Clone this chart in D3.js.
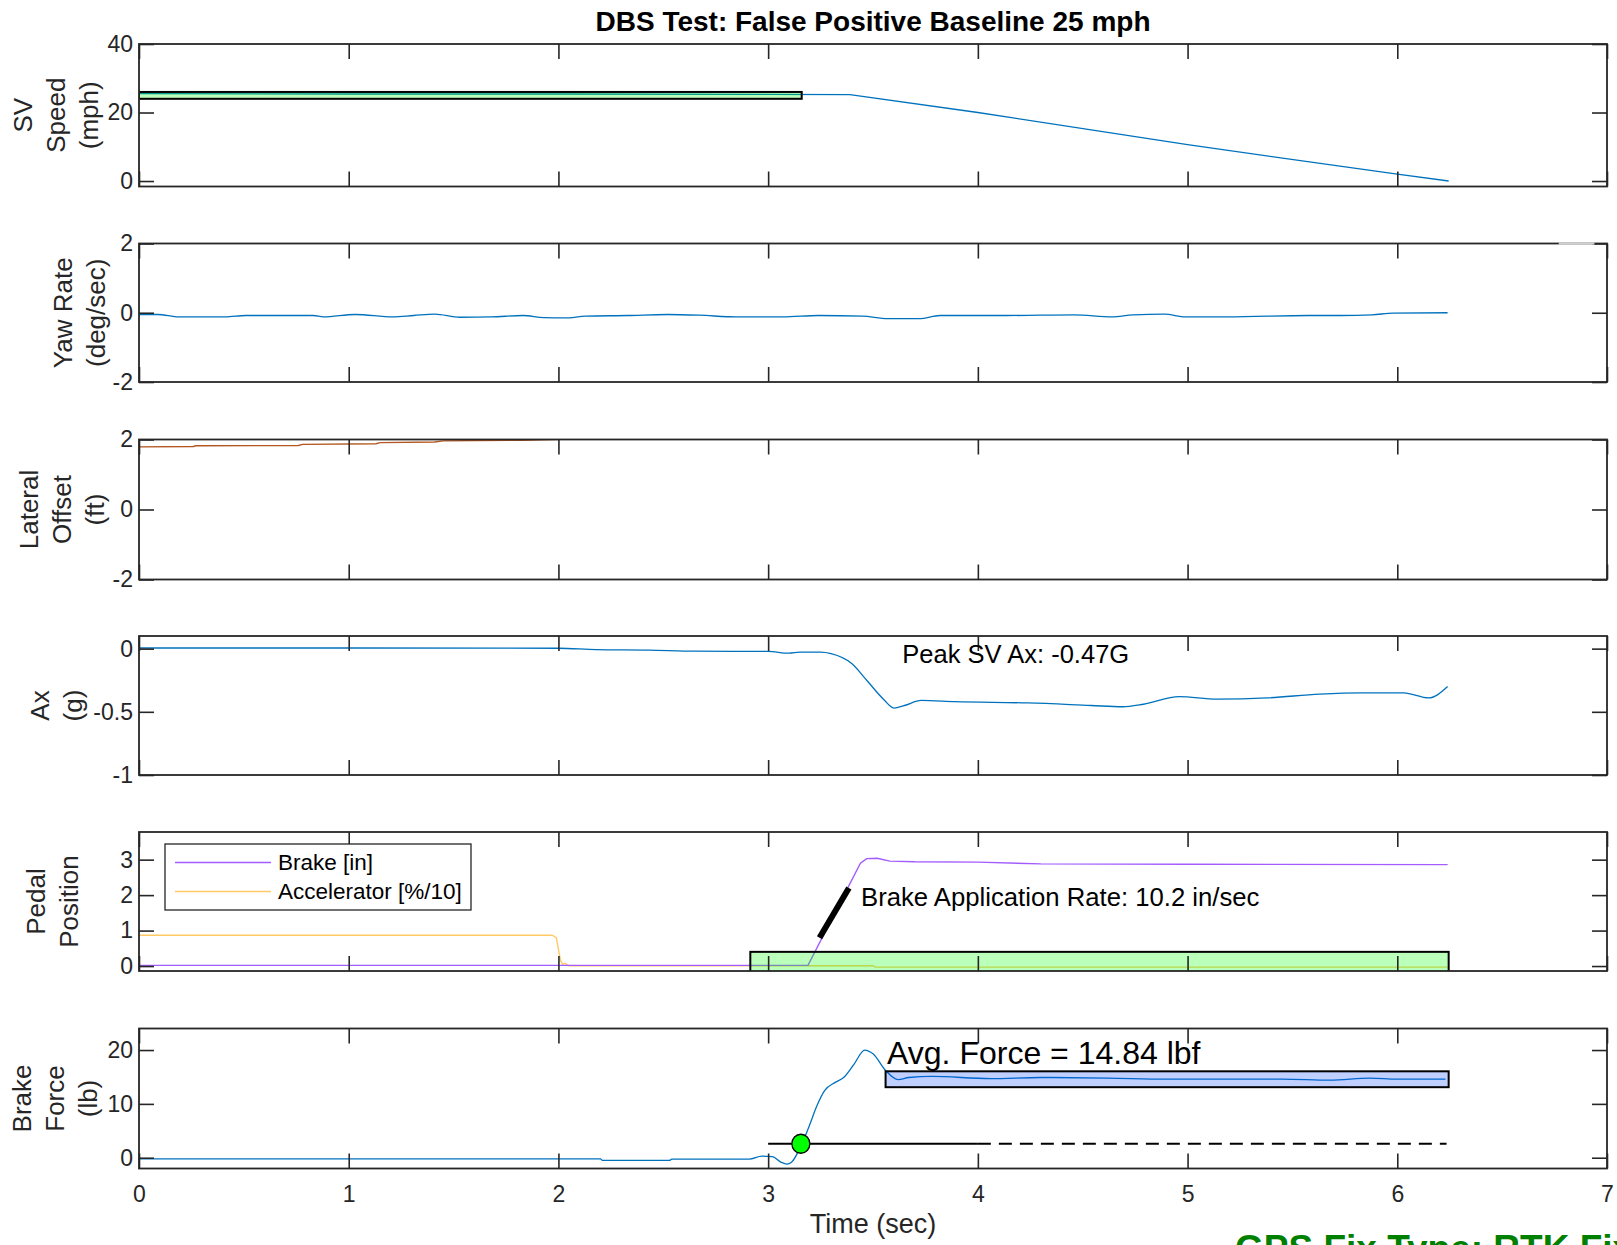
<!DOCTYPE html>
<html>
<head>
<meta charset="utf-8">
<script src="https://cdn.jsdelivr.net/npm/d3@7"></script>
<style>
html, body { margin: 0; padding: 0; background: #fff; }
svg { display: block; font-family: "Liberation Sans", Arial, Helvetica, sans-serif; }
</style>
</head>
<body>
<svg id="chart" width="1617" height="1245"></svg>
<script>
// ---- data (time in sec) ----
var timeTicks = [0, 1, 2, 3, 4, 5, 6, 7];

var speedData = [[0, 25.5], [1.0, 25.4], [2.0, 25.4], [3.0, 25.3], [3.39, 25.2], [4.0, 20.0], [5.0, 10.6], [6.0, 2.0], [6.245, 0]];

var yawData = [[0, -0.05], [0.09, -0.05], [0.19, -0.12], [0.41, -0.12], [0.51, -0.08], [0.83, -0.08], [0.88, -0.12],
  [1.03, -0.05], [1.21, -0.12], [1.31, -0.08], [1.41, -0.04], [1.53, -0.13], [1.68, -0.12], [1.83, -0.08],
  [1.93, -0.14], [2.03, -0.15], [2.13, -0.10], [2.33, -0.08], [2.52, -0.05], [2.67, -0.07], [2.85, -0.12],
  [3.07, -0.12], [3.24, -0.08], [3.45, -0.10], [3.57, -0.17], [3.72, -0.17], [3.82, -0.08], [4.14, -0.08],
  [4.46, -0.06], [4.64, -0.12], [4.74, -0.06], [4.89, -0.04], [4.99, -0.12], [5.19, -0.12], [5.58, -0.08],
  [5.73, -0.08], [5.88, -0.06], [5.98, -0.01], [6.24, 0.0]];

var lateralData = [[0, 1.79], [0.26, 1.80], [0.27, 1.82], [0.76, 1.83], [0.78, 1.86], [1.13, 1.88], [1.15, 1.91],
  [1.41, 1.93], [1.45, 1.96], [1.83, 1.98], [2.06, 2.01], [2.2, 2.05]];

var axData = [[0, 0.005], [1.0, 0.005], [2.0, 0.003], [2.18, -0.008], [2.43, -0.012], [2.65, -0.02], [3.0, -0.022],
  [3.1, -0.036], [3.15, -0.028], [3.25, -0.028], [3.3, -0.04], [3.4, -0.12], [3.47, -0.25], [3.55, -0.40],
  [3.6, -0.47], [3.65, -0.45], [3.73, -0.41], [3.89, -0.42], [4.24, -0.43], [4.54, -0.45], [4.69, -0.46],
  [4.79, -0.44], [4.96, -0.38], [5.14, -0.40], [5.38, -0.39], [5.63, -0.36], [5.83, -0.35], [6.03, -0.35],
  [6.15, -0.39], [6.24, -0.30]];

var brakeData = [[0, 0.02], [3.19, 0.02], [3.44, 2.9], [3.47, 3.03], [3.52, 3.04], [3.58, 2.96], [3.7, 2.94],
  [4.0, 2.93], [4.3, 2.88], [5.0, 2.87], [6.24, 2.86]];

var accelData = [[0, 0.87], [1.97, 0.87], [1.99, 0.8], [2.01, 0.15], [2.02, 0.05], [2.03, 0.08], [2.05, 0.01],
  [3.5, 0.01], [3.51, -0.03], [6.24, -0.03]];

var forceData = [[0, -0.2], [2.2, -0.2], [2.21, -0.5], [2.53, -0.5], [2.54, -0.25], [2.91, -0.25], [2.97, 0.3],
  [3.02, 0.2], [3.06, -0.8], [3.09, -1.2], [3.11, -0.9], [3.16, 2.5], [3.2, 6.3], [3.23, 9.4], [3.27, 12.5],
  [3.32, 14.0], [3.36, 14.9], [3.41, 17.4], [3.46, 20.0], [3.5, 19.3], [3.56, 16.2], [3.62, 14.5], [3.67, 14.9],
  [3.78, 15.1], [4.06, 14.7], [4.3, 14.9], [4.62, 14.8], [4.9, 14.6], [5.18, 14.6], [5.45, 14.6], [5.68, 14.4],
  [5.87, 14.8], [6.0, 14.6], [6.23, 14.6]];

// annotation values
var speedBand = [0, 3.16, 24, 26];          // t0, t1, lo, hi
var pedalBand = [2.915, 6.245, -0.2, 0.4];
var forceBand = [3.56, 6.245, 13.1, 16.05];
var rateSegment = [[3.245, 0.8], [3.385, 2.2]];
var onsetPoint = [3.156, 2.6];
var onsetLineSolid = [3.0, 4.0];
var onsetLineDashed = [4.0, 6.235];
var legendNames = ["Brake [in]", "Accelerator [%/10]"];

// ---- layout ----
var BLUE = "#0072BD", AXC = "#262626";
var svg = d3.select("#chart");
var x = d3.scaleLinear().domain([0, 7]).range([139, 1607]);

var panels = [
  {top: 44, bottom: 186.5, domain: [-1.6, 40], ticks: [0, 20, 40], label: ["SV", "Speed", "(mph)"], labelX: 89},
  {top: 243.5, bottom: 382, domain: [-2, 2], ticks: [-2, 0, 2], label: ["Yaw Rate", "(deg/sec)"], labelX: 96},
  {top: 439.5, bottom: 579.5, domain: [-2, 2], ticks: [-2, 0, 2], label: ["Lateral", "Offset", "(ft)"], labelX: 95},
  {top: 636, bottom: 775, domain: [-1, 0.1], ticks: [-1, -0.5, 0], label: ["Ax", "(g)"], labelX: 73},
  {top: 832, bottom: 971, domain: [-0.14, 3.78], ticks: [0, 1, 2, 3], label: ["Pedal", "Position"], labelX: 69},
  {top: 1028.5, bottom: 1168.5, domain: [-2, 24], ticks: [0, 10, 20], label: ["Brake", "Force", "(lb)"], labelX: 88}
];

function lineOf(y, curve) {
  return d3.line().x(function(d) { return x(d[0]); }).y(function(d) { return y(d[1]); }).curve(curve || d3.curveLinear);
}

function band(g, y, b, color, op) {
  g.append("rect")
    .attr("x", x(b[0])).attr("y", y(b[3]))
    .attr("width", x(b[1]) - x(b[0])).attr("height", y(b[2]) - y(b[3]))
    .attr("fill", color).attr("fill-opacity", op)
    .attr("stroke", "#000").attr("stroke-width", 2);
}

panels.forEach(function(p, i) {
  var y = d3.scaleLinear().domain(p.domain).range([p.bottom, p.top]);
  p.y = y;
  var g = svg.append("g");
  g.append("clipPath").attr("id", "clip" + i)
    .append("rect").attr("x", 139).attr("y", p.top).attr("width", 1468).attr("height", p.bottom - p.top);
  p.data = g.append("g").attr("clip-path", "url(#clip" + i + ")");

  function styleAxis(a) {
    a.select(".domain").remove();
    a.selectAll(".tick line").attr("stroke", AXC).attr("stroke-width", 1.6);
    a.selectAll("text").attr("fill", AXC).attr("font-size", 23).attr("font-family", null);
  }
  g.append("g").attr("transform", "translate(139,0)")
    .call(d3.axisLeft(y).tickValues(p.ticks).tickSize(-15).tickPadding(6).tickFormat(function(d) { return String(d); }))
    .call(styleAxis);
  g.append("g").attr("transform", "translate(1607,0)")
    .call(d3.axisRight(y).tickValues(p.ticks).tickSize(-15).tickFormat(""))
    .call(styleAxis);
  g.append("g").attr("transform", "translate(0," + p.top + ")")
    .call(d3.axisTop(x).tickValues(timeTicks).tickSize(-15).tickFormat(""))
    .call(styleAxis);
  g.append("g").attr("transform", "translate(0," + p.bottom + ")")
    .call(d3.axisBottom(x).tickValues(timeTicks).tickSize(-15).tickPadding(17)
      .tickFormat(i === panels.length - 1 ? d3.format("d") : ""))
    .call(styleAxis);

  g.append("rect").attr("x", 139).attr("y", p.top).attr("width", 1468).attr("height", p.bottom - p.top)
    .attr("fill", "none").attr("stroke", AXC).attr("stroke-width", 1.8);

  // multi-line rotated y label
  var cy = (p.top + p.bottom) / 2, n = p.label.length;
  p.label.forEach(function(s, k) {
    var lx = p.labelX - (n - 1 - k) * 33;
    g.append("text").attr("x", lx).attr("y", cy)
      .attr("transform", "rotate(-90," + lx + "," + cy + ")")
      .attr("text-anchor", "middle").attr("dominant-baseline", "central")
      .attr("font-size", 26).attr("fill", AXC).text(s);
  });
});

// ---- panel 1: speed ----
var p1 = panels[0];
p1.data.append("path").attr("d", lineOf(p1.y)(speedData)).attr("fill", "none").attr("stroke", BLUE).attr("stroke-width", 1.3);
band(p1.data, p1.y, speedBand, "#00ff00", 0.27);

// ---- panel 2: yaw rate ----
var p2 = panels[1];
p2.data.append("path").attr("d", lineOf(p2.y, d3.curveMonotoneX)(yawData)).attr("fill", "none").attr("stroke", BLUE).attr("stroke-width", 1.3);
svg.append("line").attr("x1", x(6.77)).attr("x2", x(6.94)).attr("y1", p2.top).attr("y2", p2.top)
  .attr("stroke", "#d0d0d0").attr("stroke-width", 2.4);

// ---- panel 3: lateral offset ----
var p3 = panels[2];
p3.data.append("path").attr("d", lineOf(p3.y)(lateralData)).attr("fill", "none").attr("stroke", "#b3561f").attr("stroke-width", 1.4);

// ---- panel 4: Ax ----
var p4 = panels[3];
p4.data.append("path").attr("d", lineOf(p4.y, d3.curveMonotoneX)(axData)).attr("fill", "none").attr("stroke", BLUE).attr("stroke-width", 1.3);
svg.append("text").attr("x", x(3.64)).attr("y", p4.y(-0.11)).attr("font-size", 25.5).attr("fill", "#000").text("Peak SV Ax: -0.47G");

// ---- panel 5: pedal position ----
var p5 = panels[4];
var pedalColors = ["#a35cff", "#ffc966"];
p5.data.append("path").attr("d", lineOf(p5.y)(accelData)).attr("fill", "none").attr("stroke", pedalColors[1]).attr("stroke-width", 1.4);
p5.data.append("path").attr("d", lineOf(p5.y)(brakeData)).attr("fill", "none").attr("stroke", pedalColors[0]).attr("stroke-width", 1.4);
band(p5.data, p5.y, pedalBand, "#00ff00", 0.27);
p5.data.append("line")
  .attr("x1", x(rateSegment[0][0])).attr("y1", p5.y(rateSegment[0][1]))
  .attr("x2", x(rateSegment[1][0])).attr("y2", p5.y(rateSegment[1][1]))
  .attr("stroke", "#000").attr("stroke-width", 6);
svg.append("text").attr("x", x(3.443)).attr("y", p5.y(1.68)).attr("font-size", 25.7).attr("fill", "#000")
  .text("Brake Application Rate: 10.2 in/sec");

var leg = svg.append("g");
leg.append("rect").attr("x", 165).attr("y", 844).attr("width", 306).attr("height", 66)
  .attr("fill", "#fff").attr("stroke", AXC).attr("stroke-width", 1.3);
legendNames.forEach(function(name, k) {
  var ly = 862.5 + k * 29;
  leg.append("line").attr("x1", 175).attr("x2", 271).attr("y1", ly).attr("y2", ly)
    .attr("stroke", pedalColors[k]).attr("stroke-width", 1.4);
  leg.append("text").attr("x", 278).attr("y", ly).attr("dominant-baseline", "central")
    .attr("font-size", 22.5).attr("fill", "#000").text(name);
});

// ---- panel 6: brake force ----
var p6 = panels[5];
p6.data.append("path").attr("d", lineOf(p6.y, d3.curveMonotoneX)(forceData)).attr("fill", "none").attr("stroke", BLUE).attr("stroke-width", 1.3);
band(p6.data, p6.y, forceBand, "#0040ff", 0.25);
p6.data.append("line").attr("x1", x(onsetLineSolid[0])).attr("x2", x(onsetLineSolid[1]))
  .attr("y1", p6.y(onsetPoint[1])).attr("y2", p6.y(onsetPoint[1])).attr("stroke", "#000").attr("stroke-width", 2);
p6.data.append("line").attr("x1", x(onsetLineDashed[0])).attr("x2", x(onsetLineDashed[1]))
  .attr("y1", p6.y(onsetPoint[1])).attr("y2", p6.y(onsetPoint[1])).attr("stroke", "#000").attr("stroke-width", 2)
  .attr("stroke-dasharray", "13,8");
p6.data.append("ellipse").attr("cx", x(onsetPoint[0])).attr("cy", p6.y(onsetPoint[1])).attr("rx", 9).attr("ry", 9.5)
  .attr("fill", "#00ff00").attr("stroke", "#000").attr("stroke-width", 1.3);
svg.append("text").attr("x", x(3.567)).attr("y", p6.y(17.46)).attr("font-size", 32).attr("fill", "#000")
  .text("Avg. Force = 14.84 lbf");

// ---- titles ----
svg.append("text").attr("x", 873).attr("y", 31).attr("text-anchor", "middle")
  .attr("font-size", 28).attr("font-weight", "bold").attr("fill", "#000")
  .text("DBS Test: False Positive Baseline 25 mph");
svg.append("text").attr("x", 873).attr("y", 1233).attr("text-anchor", "middle")
  .attr("font-size", 27).attr("fill", AXC).text("Time (sec)");
svg.append("text").attr("x", 1235).attr("y", 1261)
  .attr("font-size", 37).attr("font-weight", "bold").attr("fill", "#008000")
  .text("GPS Fix Type: RTK Fixed");
</script>
</body>
</html>
